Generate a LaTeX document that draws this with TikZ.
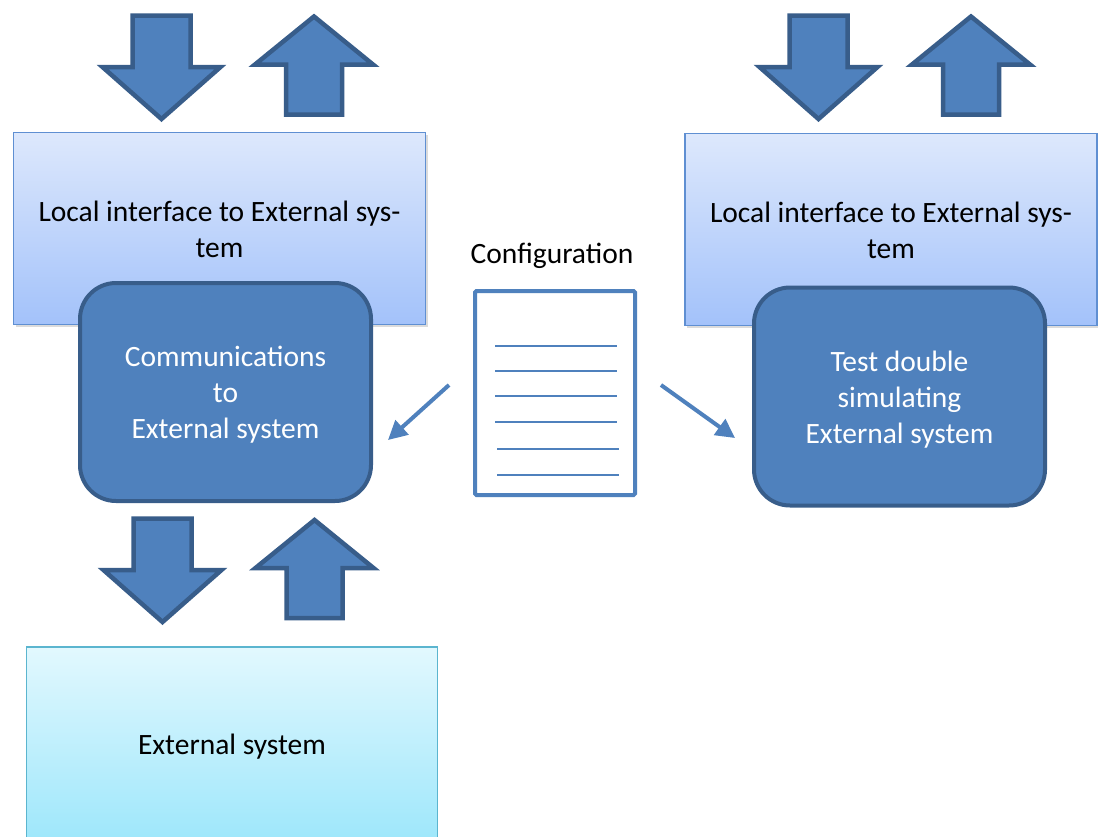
\documentclass[tikz,border=0pt]{standalone}
\usepackage{fontspec}
\setmainfont{Carlito}
\usetikzlibrary{arrows.meta,shadows}

\definecolor{accent}{HTML}{4F81BD}
\definecolor{accentdark}{HTML}{385D8A}
\definecolor{ifaceTop}{HTML}{DDE8FC}
\definecolor{ifaceBot}{HTML}{A3C2FA}
\definecolor{ifaceLine}{HTML}{5F8FD2}
\definecolor{extTop}{HTML}{E2F8FE}
\definecolor{extBot}{HTML}{9EE7FB}
\definecolor{extLine}{HTML}{5BB5CF}

% invisible rule that sets the height of a first text line
\newcommand\firstline[1]{\rule{0pt}{#1pt}}

\begin{document}
\begin{tikzpicture}[x=1pt,y=-1pt,
  every node/.style={font=\fontsize{29.5}{36}\selectfont, inner sep=0pt, align=center},
  iface/.style={draw=ifaceLine, line width=1.5pt, top color=ifaceTop, bottom color=ifaceBot,
    minimum width=412pt, minimum height=192pt,
    drop shadow={opacity=0.28, shadow xshift=2pt, shadow yshift=-2.5pt}},
  extbox/.style={draw=extLine, line width=1.5pt, top color=extTop, bottom color=extBot,
    minimum width=411pt, minimum height=194pt,
    drop shadow={opacity=0.2, shadow xshift=0pt, shadow yshift=-2pt}},
  proc/.style={draw=accentdark, line width=4pt, fill=accent, rounded corners=36pt,
    text=white, minimum width=291pt, minimum height=218pt},
  docicon/.style={draw=accent, line width=4pt, rounded corners=1.5pt, fill=white,
    minimum width=160pt, minimum height=204pt},
  docline/.style={draw=accent, line width=2pt},
  cfgarrow/.style={draw=accent, line width=4pt, -{Triangle[length=19pt,width=19pt]}},
  blk/.style={fill=accent, draw=accentdark, line width=4.5pt, line join=miter},
  downblk/.pic={\path[blk] (-29,0) -- (29,0) -- (29,51.5) -- (59,51.5) -- (0,103.5)
      -- (-59,51.5) -- (-29,51.5) -- cycle;},
  upblk/.pic={\path[blk] (0,0) -- (59,48) -- (28,48) -- (28,98) -- (-28,98)
      -- (-28,48) -- (-59,48) -- cycle;}
]
\useasboundingbox (0,0) rectangle (1098,836);
\clip (0,0) rectangle (1098,836);
\fill[white] (0,0) rectangle (1098,836);

% block arrows above the two interfaces and between the left stack and the external system
\pic (tlDown) at (161.5,15.5) {downblk};
\pic (tlUp)   at (314,16.5)   {upblk};
\pic (trDown) at (818.5,15.5) {downblk};
\pic (trUp)   at (971,16.5)   {upblk};
\pic (blDown) at (162.5,518.5) {downblk};
\pic (blUp)   at (314.5,520)  {upblk};

% interface boxes
\node[iface] (ifaceL) at (219.5,228.5) {\firstline{23}Local interface to External sys-\\tem};
\node[iface] (ifaceR) at (891,229.5) {\firstline{23}Local interface to External sys-\\tem};

% process boxes
\node[proc] (comm) at (225.5,392) {\firstline{26}Communications\\to\\External system};
\node[proc] (tdouble) at (899.5,396.5) {\firstline{26}Test double\\simulating\\External system};

% external system
\node[extbox] (ext) at (232,744) {\firstline{26}External system};

% configuration document
\node (cfglabel) at (552,256) {Configuration};
\node[docicon] (doc) at (555,393) {};
\foreach \y in {346,371,396,422} \draw[docline] (495,\y) -- (617,\y);
\foreach \y in {449,475} \draw[docline] (497,\y) -- (619,\y);

% configuration feeds both sides
\coordinate (cfgLfrom) at (449,385);
\coordinate (cfgLto)   at (388,440);
\coordinate (cfgRfrom) at (661,385);
\coordinate (cfgRto)   at (735,438);
\draw[cfgarrow] (cfgLfrom) -- (cfgLto);
\draw[cfgarrow] (cfgRfrom) -- (cfgRto);
\end{tikzpicture}
\end{document}
